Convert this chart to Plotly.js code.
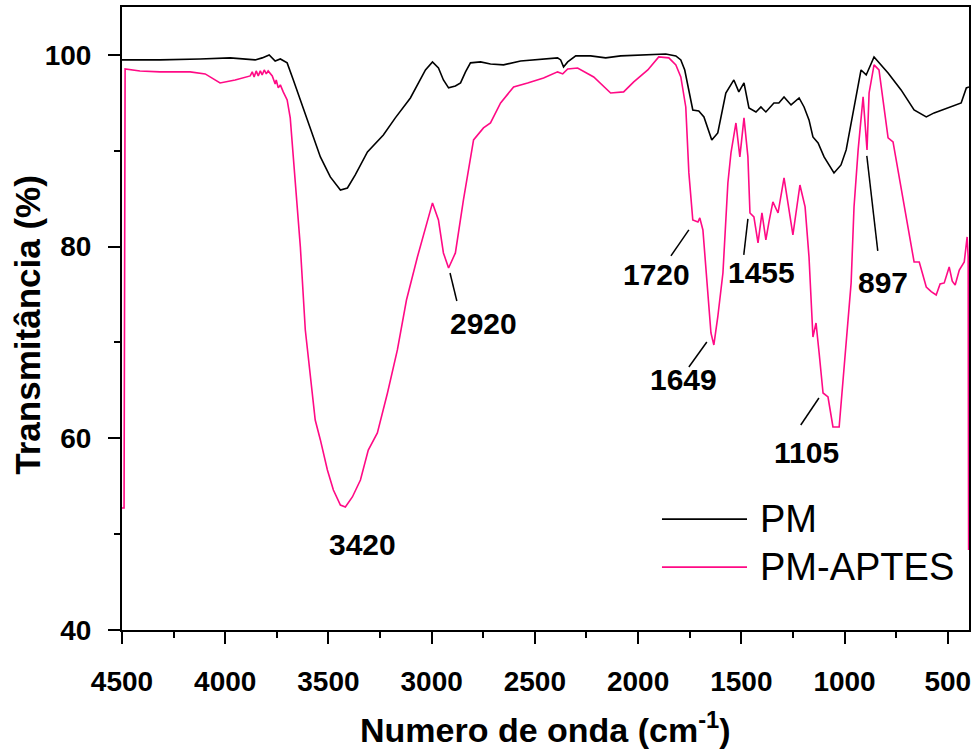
<!DOCTYPE html>
<html>
<head>
<meta charset="utf-8">
<script src="https://cdn.plot.ly/plotly-3.0.1.min.js"></script>
<style>
  html, body { margin: 0; padding: 0; background: #fff; }
  #chart { width: 978px; height: 749px; }
</style>
</head>
<body>
<div id="chart"></div>
<script>
// FTIR spectra: pure PM and APTES-functionalised PM
const seriesNames = ['PM', 'PM-APTES'];

const pmWavenumber = [4500, 4316, 4122, 3976, 3855, 3821, 3787, 3758, 3733, 3700, 3670, 3636, 3612, 3578, 3539, 3491, 3442, 3408, 3370, 3311, 3234, 3176, 3103, 3030, 2996, 2967, 2943, 2918, 2885, 2860, 2836, 2812, 2763, 2715, 2652, 2569, 2472, 2390, 2375, 2361, 2341, 2302, 2230, 2157, 2084, 1987, 1914, 1866, 1817, 1793, 1774, 1754, 1735, 1706, 1681, 1643, 1614, 1575, 1536, 1512, 1487, 1463, 1429, 1405, 1381, 1342, 1318, 1293, 1259, 1220, 1196, 1172, 1153, 1128, 1099, 1051, 1017, 992, 954, 920, 895, 857, 789, 726, 663, 604, 566, 498, 435, 410, 397];
const pmTransmittance = [99.48, 99.48, 99.58, 99.69, 99.48, 99.69, 100.0, 99.37, 99.58, 99.17, 97.39, 95.30, 93.74, 91.65, 89.36, 87.27, 85.91, 86.12, 87.48, 89.88, 91.65, 93.43, 95.51, 98.43, 99.27, 98.64, 97.39, 96.56, 96.76, 97.08, 98.23, 99.17, 99.27, 99.06, 98.96, 99.37, 99.58, 99.69, 99.48, 98.75, 99.27, 99.90, 99.90, 99.69, 99.90, 100.0, 100.1, 100.1, 99.9, 99.48, 98.43, 96.35, 94.26, 94.16, 93.53, 91.13, 91.86, 96.03, 97.39, 96.14, 97.08, 94.47, 94.05, 94.57, 94.05, 94.99, 94.99, 95.62, 94.78, 95.51, 94.57, 93.22, 91.44, 90.82, 89.36, 87.69, 88.52, 90.09, 94.57, 98.43, 97.91, 99.79, 98.12, 96.35, 94.26, 93.53, 93.95, 94.47, 94.99, 96.56, 96.66];

const aptesWavenumber = [4500, 4490, 4485, 4413, 4316, 4170, 4097, 4025, 3952, 3903, 3879, 3869, 3860, 3850, 3840, 3830, 3821, 3811, 3801, 3792, 3782, 3772, 3758, 3753, 3743, 3733, 3719, 3709, 3700, 3685, 3670, 3636, 3612, 3602, 3578, 3564, 3539, 3505, 3476, 3442, 3418, 3384, 3345, 3307, 3263, 3214, 3166, 3122, 3069, 2996, 2967, 2943, 2918, 2885, 2846, 2797, 2749, 2715, 2666, 2603, 2535, 2458, 2390, 2365, 2341, 2293, 2215, 2133, 2070, 2021, 1953, 1900, 1851, 1817, 1793, 1769, 1754, 1735, 1710, 1701, 1686, 1672, 1647, 1633, 1614, 1589, 1565, 1550, 1526, 1507, 1487, 1468, 1458, 1439, 1419, 1400, 1381, 1366, 1347, 1322, 1293, 1250, 1216, 1191, 1172, 1153, 1138, 1123, 1104, 1080, 1056, 1026, 992, 968, 954, 934, 910, 891, 881, 857, 833, 789, 765, 726, 692, 663, 638, 604, 580, 556, 537, 517, 493, 478, 464, 444, 420, 406, 401, 399];
const aptesTransmittance = [52.73, 52.73, 98.54, 98.33, 98.23, 98.23, 98.02, 97.08, 97.39, 97.70, 97.81, 98.23, 97.70, 98.33, 97.81, 98.33, 97.91, 98.43, 98.02, 98.33, 98.02, 97.81, 96.97, 97.39, 96.56, 96.87, 96.14, 95.62, 95.30, 93.43, 89.57, 79.96, 71.30, 69.22, 64.73, 61.91, 59.83, 56.69, 54.61, 53.04, 52.83, 53.88, 55.65, 58.78, 60.56, 64.73, 69.22, 74.43, 78.92, 84.56, 82.78, 79.34, 77.77, 79.34, 84.87, 91.13, 92.38, 92.90, 94.99, 96.66, 97.08, 97.60, 98.23, 98.02, 98.54, 98.64, 97.70, 96.03, 96.14, 97.18, 98.43, 99.79, 99.69, 98.96, 97.70, 94.57, 87.69, 82.78, 82.57, 82.99, 81.74, 77.88, 70.99, 69.74, 72.66, 77.25, 86.64, 89.77, 92.90, 89.36, 93.43, 89.36, 83.51, 83.10, 80.38, 83.51, 80.70, 82.57, 84.66, 83.51, 87.16, 81.22, 86.43, 84.14, 78.92, 70.57, 72.03, 68.90, 64.73, 64.31, 61.18, 61.18, 69.53, 76.21, 84.14, 90.09, 95.62, 90.09, 96.03, 98.96, 98.43, 91.34, 90.92, 86.23, 81.74, 78.40, 78.40, 75.79, 75.30, 74.96, 76.10, 76.21, 77.88, 76.40, 76.00, 77.56, 78.40, 81.01, 78.94, 48.35];

// Peak labels: band position, text anchor and leader-line ends (data units)
const peakText   = ['3420', '2920', '1720', '1649', '1455', '1105', '897'];
const peakLabelX = [3333, 2747, 1909, 1778, 1400, 1183, 814];
const peakLabelY = [48.87, 72.03, 77.04, 66.09, 77.25, 58.57, 76.21];
const leaderX0 = [null, 2911, 1841, 1754, 1488, 1212, 892];
const leaderY0 = [null, 77.25, 79.03, 67.44, 79.13, 61.39, 89.46];
const leaderX1 = [null, 2878, 1754, 1667, 1468, 1124, 839];
const leaderY1 = [null, 74.33, 81.74, 70.05, 82.89, 64.21, 79.55];

const lineColors = ['#000000', '#ff0a85'];
const fontFamily = 'Liberation Sans, Arial, sans-serif';

const traces = [
  { x: pmWavenumber, y: pmTransmittance, name: seriesNames[0], type: 'scatter', mode: 'lines',
    line: { color: lineColors[0], width: 1.6 } },
  { x: aptesWavenumber, y: aptesTransmittance, name: seriesNames[1], type: 'scatter', mode: 'lines',
    line: { color: lineColors[1], width: 1.6 } }
];

const boldFont = { family: fontFamily, size: 30, color: '#000' };

const annotations = [];
const shapes = [];
for (let i = 0; i < peakText.length; i++) {
  annotations.push({
    x: peakLabelX[i], y: peakLabelY[i], xref: 'x', yref: 'y',
    text: '<b>' + peakText[i] + '</b>', showarrow: false,
    font: boldFont, xanchor: 'center', yanchor: 'middle'
  });
  if (leaderX0[i] !== null) {
    shapes.push({
      type: 'line', xref: 'x', yref: 'y',
      x0: leaderX0[i], y0: leaderY0[i], x1: leaderX1[i], y1: leaderY1[i],
      line: { color: '#000', width: 1.5 }
    });
  }
}

// Hand-drawn legend (long line samples)
const legendY = [0.178, 0.101];
for (let i = 0; i < seriesNames.length; i++) {
  shapes.push({
    type: 'line', xref: 'paper', yref: 'paper',
    x0: 0.6375, x1: 0.7379, y0: legendY[i], y1: legendY[i],
    line: { color: lineColors[i], width: 1.6 }
  });
  annotations.push({
    x: 0.7509, y: legendY[i], xref: 'paper', yref: 'paper',
    text: seriesNames[i], showarrow: false, xanchor: 'left', yanchor: 'middle',
    font: { family: fontFamily, size: 38, color: '#000' }
  });
}

// Axis titles, placed in paper coordinates
annotations.push({
  x: -0.111, y: 0.49, xref: 'paper', yref: 'paper',
  text: '<b>Transmitância (%)</b>', showarrow: false, textangle: -90,
  xanchor: 'center', yanchor: 'middle',
  font: { family: fontFamily, size: 35, color: '#000' }
});
annotations.push({
  x: 0.5, y: -0.157, xref: 'paper', yref: 'paper',
  text: '<b>Numero de onda (cm<sup>-1</sup>)</b>', showarrow: false,
  xanchor: 'center', yanchor: 'middle',
  font: { family: fontFamily, size: 34, color: '#000' }
});

const layout = {
  width: 978, height: 749,
  margin: { l: 122, r: 9, t: 7, b: 119 },
  paper_bgcolor: '#fff', plot_bgcolor: '#fff',
  showlegend: false,
  xaxis: {
    range: [4500, 397],
    tickmode: 'linear', tick0: 500, dtick: 500,
    ticks: 'outside', ticklen: 12, tickwidth: 2, tickcolor: '#000',
    minor: { dtick: 250, ticks: 'outside', ticklen: 6, tickwidth: 2, tickcolor: '#000' },
    showline: true, linewidth: 2, linecolor: '#000', mirror: true,
    showgrid: false, zeroline: false,
    ticklabelstandoff: 13,
    tickfont: { family: fontFamily, size: 28, color: '#000', weight: 'bold' }
  },
  yaxis: {
    range: [40, 105],
    tickmode: 'linear', tick0: 40, dtick: 20,
    ticks: 'outside', ticklen: 12, tickwidth: 2, tickcolor: '#000',
    minor: { dtick: 10, ticks: 'outside', ticklen: 6, tickwidth: 2, tickcolor: '#000' },
    showline: true, linewidth: 2, linecolor: '#000', mirror: true,
    showgrid: false, zeroline: false,
    ticklabelstandoff: 11,
    tickfont: { family: fontFamily, size: 28, color: '#000', weight: 'bold' }
  },
  annotations: annotations,
  shapes: shapes
};

Plotly.newPlot('chart', traces, layout, { displayModeBar: false, staticPlot: true });
</script>
</body>
</html>
